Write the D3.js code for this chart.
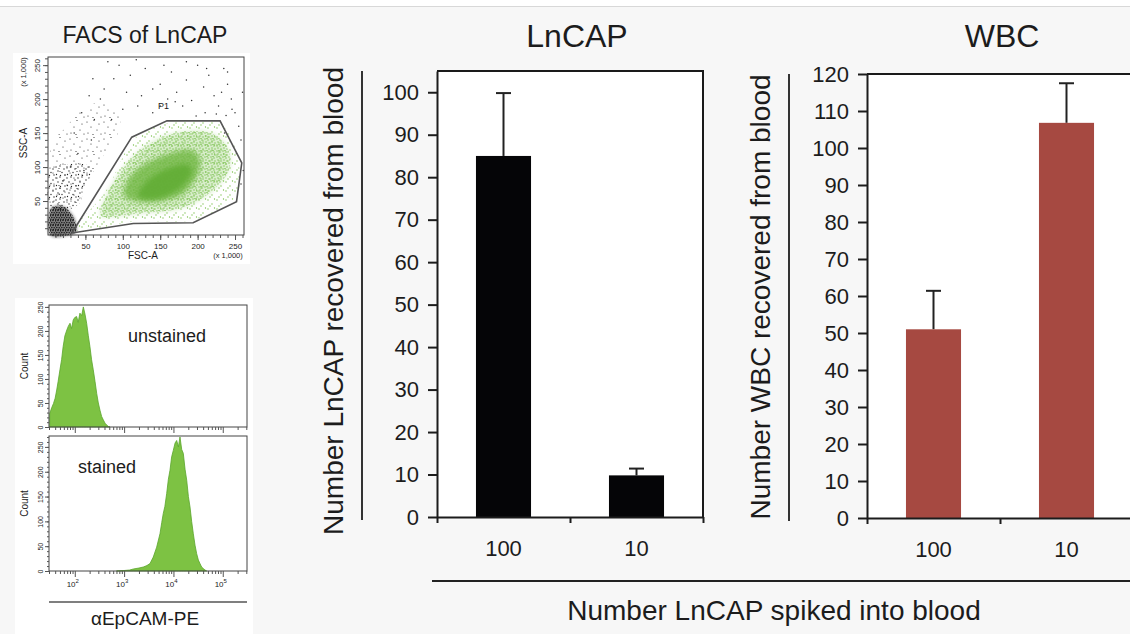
<!DOCTYPE html>
<html lang="en">
<head>
<meta charset="utf-8">
<title>LnCAP recovered from blood</title>
<script src="https://cdn.jsdelivr.net/npm/d3@7"></script>
<style>
body { margin: 0; background: #fff; }
text { font-family: "Liberation Sans", Arial, Helvetica, sans-serif; fill: #1c1c1c; }
</style>
</head>
<body>
<script>
// ---- bar charts: cells recovered vs. LnCAP spiked into blood ----
var spiked = ["100", "10"];
var lncapMean = [85, 9.8];
var lncapErr = [14.8, 1.6];
var wbcMean = [51, 106.8];
var wbcErr = [10.4, 10.7];
var lncapTicks = [0, 10, 20, 30, 40, 50, 60, 70, 80, 90, 100];
var wbcTicks = [0, 10, 20, 30, 40, 50, 60, 70, 80, 90, 100, 110, 120];

// ---- FACS scatter (FSC-A / SSC-A, x 1,000) ----
var scatterTicks = [50, 100, 150, 200, 250];
var gateP1 = [[32, 3], [112, 144], [159, 168], [230, 168], [259, 106], [252, 49], [194, 18], [114, 17]];
var gateLabel = [147, 186];
var p1Sparse = [[38, 7], [78, 66], [114, 140], [159, 164], [230, 163], [254, 110], [250, 56], [194, 22], [114, 20]];
var p1Mid = [[70, 32], [87, 76], [114, 115], [145, 140], [181, 152], [217, 150], [239, 130], [243, 101], [230, 76], [203, 52], [168, 37], [123, 32], [87, 27]];
var p1Core = [[101, 61], [110, 86], [132, 106], [163, 120], [190, 125], [203, 111], [199, 86], [181, 61], [159, 52], [132, 49], [110, 52]];
var p1Dense = [[120, 58], [135, 82], [160, 98], [185, 104], [192, 92], [180, 72], [160, 58], [138, 52]];
var debrisBand = [[3, 125], [25, 160], [52, 189], [79, 194], [96, 174], [92, 145], [70, 110], [52, 76], [38, 42], [25, 42], [3, 42]];
var debrisLower = [[3, 42], [38, 42], [50, 72], [60, 98], [35, 105], [3, 95]];
var debrisCore = [[3, 37], [20, 42], [34, 27], [38, 7], [29, 0], [3, 0]];
var outsideEvents = [[60, 230], [75, 215], [95, 250], [110, 235], [125, 205], [130, 245], [150, 222], [165, 240], [172, 210],
  [185, 228], [192, 198], [200, 250], [208, 218], [215, 235], [222, 205], [228, 190], [235, 245], [240, 222], [245, 200],
  [250, 180], [255, 160], [258, 140], [252, 120], [246, 185], [238, 176], [232, 210], [180, 190], [170, 196], [160, 200],
  [140, 215], [120, 190], [105, 210], [88, 230], [70, 200], [55, 205], [45, 180], [35, 150], [40, 120], [30, 100], [20, 80],
  [15, 60], [48, 95], [58, 140], [62, 170], [85, 170], [100, 185], [140, 180], [150, 190], [198, 175], [210, 180], [225, 178],
  [236, 150], [248, 130], [240, 240], [212, 245], [185, 255], [155, 250], [118, 258], [80, 255], [260, 210], [261, 95], [258, 75]];

// ---- aEpCAM-PE histograms: [fluorescence, count] ----
var countTicks = [50, 100, 150, 200, 250];
var logTicks = [100, 1000, 10000, 100000];
var unstained = [[31, 28], [34, 40], [37, 49], [40, 60], [43, 77], [46, 95], [50, 119], [54, 140], [58, 167], [63, 190],
  [69, 202], [74, 210], [80, 216], [86, 205], [93, 223], [100, 228], [109, 230], [117, 218], [127, 237], [138, 232],
  [149, 250], [161, 235], [174, 216], [188, 190], [203, 167], [219, 140], [237, 119], [257, 95], [278, 70], [300, 50],
  [324, 35], [350, 22], [378, 15], [410, 8], [444, 4], [480, 1], [518, 0]];
var stained = [[700, 0], [1000, 1], [1300, 2], [1535, 4], [2000, 6], [2449, 8], [2900, 11], [3350, 15], [3900, 28],
  [4571, 48], [5333, 75], [5800, 98], [6223, 116], [6700, 130], [7295, 156], [7900, 185], [8511, 203], [9200, 230],
  [9931, 243], [10800, 258], [11640, 263], [12600, 250], [13580, 270], [14700, 245], [15850, 237], [17200, 205],
  [18580, 183], [20100, 150], [21680, 129], [23400, 100], [25290, 75], [27400, 52], [29580, 35], [32000, 22],
  [34510, 15], [37300, 8], [40270, 5], [43600, 2], [47210, 0]];

var svg = d3.select('body').append('svg').attr('width', 1130).attr('height', 634);
var defs = svg.append('defs');

//page background
svg.append('rect').attr('width', 1130).attr('height', 634).attr('fill', '#fff');
svg.append('rect').attr('y', 6).attr('width', 1130).attr('height', 628).attr('fill', '#f7f7f7');
svg.append('line').attr('x1', 0).attr('x2', 1130).attr('y1', 6.5).attr('y2', 6.5).attr('stroke', '#d8d8d8');

//dot patterns for the dense FACS clouds
function dotPattern(id, size, dots, color, r) {
    var p = defs.append('pattern').attr('id', id).attr('width', size).attr('height', size)
        .attr('patternUnits', 'userSpaceOnUse');
    p.selectAll('circle').data(dots).enter().append('circle')
        .attr('cx', function(d) { return d[0]; })
        .attr('cy', function(d) { return d[1]; })
        .attr('r', r).attr('fill', color);
}
dotPattern('gSparse', 9, [[1, 2], [5, 6], [7.5, 1], [3, 8]], '#79bf4a', 0.65);
dotPattern('gMid', 6, [[1, 1], [4, 2], [2, 4], [5, 5], [3, 0.5]], '#6db83e', 0.7);
dotPattern('kBand', 17, [[2, 3], [9, 1.5], [14, 5], [6, 8], [12, 11], [3, 14], [16, 15], [8, 15.5]], '#2a2a2a', 0.6);
dotPattern('kMid', 11, [[1, 2], [5, 1], [9, 4], [3, 6], [7, 7.5], [10, 10], [1.5, 9.5], [5.5, 10.5]], '#222', 0.65);
dotPattern('kDense', 5, [[0.5, 0.8], [3, 0.5], [1.8, 2.4], [4.2, 2.8], [0.8, 4.2], [3.2, 4.5]], '#111', 0.75);

defs.append('filter').attr('id', 'soft').attr('x', '-20%').attr('y', '-20%').attr('width', '140%').attr('height', '140%')
    .append('feGaussianBlur').attr('stdDeviation', 2.5);
defs.append('filter').attr('id', 'soft1').attr('x', '-30%').attr('y', '-30%').attr('width', '160%').attr('height', '160%')
    .append('feGaussianBlur').attr('stdDeviation', 1.5);

function styleAxis(g, size, color) {
    g.selectAll('path, line').attr('stroke', color);
    g.selectAll('text').style('font-size', size + 'px').attr('fill', color);
}

// ================= FACS scatter =================
var fx = d3.scaleLinear().domain([0, 262]).range([48, 244]);
var fy = d3.scaleLinear().domain([0, 262]).range([235, 57]);
var poly = d3.line().x(function(d) { return fx(d[0]); }).y(function(d) { return fy(d[1]); }).curve(d3.curveLinearClosed);
var smooth = d3.line().x(function(d) { return fx(d[0]); }).y(function(d) { return fy(d[1]); }).curve(d3.curveCardinalClosed);

svg.append('rect').attr('x', 13).attr('y', 53).attr('width', 237).attr('height', 211).attr('fill', '#fff');
svg.append('text').attr('x', 145).attr('y', 43).attr('text-anchor', 'middle').style('font-size', '23px').text('FACS of LnCAP');

var sc = svg.append('g');
sc.append('path').attr('d', smooth(p1Sparse)).attr('fill', 'url(#gSparse)');
sc.append('path').attr('d', smooth(p1Mid)).attr('fill', 'url(#gMid)');
sc.append('path').attr('d', smooth(p1Mid)).attr('fill', '#8fcc68').attr('opacity', 0.35).attr('filter', 'url(#soft)');
sc.append('path').attr('d', smooth(p1Core)).attr('fill', '#72b845').attr('opacity', 0.8).attr('filter', 'url(#soft)');
sc.append('path').attr('d', smooth(p1Dense)).attr('fill', '#62ad35').attr('opacity', 0.9).attr('filter', 'url(#soft)');
sc.append('path').attr('d', smooth(debrisBand)).attr('fill', 'url(#kBand)');
sc.append('path').attr('d', smooth(debrisLower)).attr('fill', 'url(#kMid)');
sc.append('path').attr('d', smooth(debrisCore)).attr('fill', '#1a1a1a').attr('opacity', 0.55).attr('filter', 'url(#soft1)');
sc.append('path').attr('d', smooth(debrisCore)).attr('fill', 'url(#kDense)');
sc.selectAll('circle.ev').data(outsideEvents).enter().append('circle').attr('class', 'ev')
    .attr('cx', function(d) { return fx(d[0]); })
    .attr('cy', function(d) { return fy(d[1]); })
    .attr('r', 0.75).attr('fill', '#333');
sc.append('path').attr('d', poly(gateP1)).attr('fill', 'none').attr('stroke', '#555').attr('stroke-width', 1.6);
sc.append('text').attr('x', fx(gateLabel[0])).attr('y', fy(gateLabel[1])).style('font-size', '9px').attr('fill', '#555').text('P1');
sc.append('rect').attr('x', 48).attr('y', 57).attr('width', 196).attr('height', 178)
    .attr('fill', 'none').attr('stroke', '#444').attr('stroke-width', 1);

var fxMinor = sc.append('g').attr('transform', 'translate(0,235)')
    .call(d3.axisBottom(fx).tickValues(d3.range(10, 262, 10)).tickSize(3).tickFormat(''));
var fxMajor = sc.append('g').attr('transform', 'translate(0,235)')
    .call(d3.axisBottom(fx).tickValues(scatterTicks).tickSize(5).tickPadding(3));
var fyMinor = sc.append('g').attr('transform', 'translate(48,0)')
    .call(d3.axisLeft(fy).tickValues(d3.range(10, 262, 10)).tickSize(3).tickFormat(''));
var fyMajor = sc.append('g').attr('transform', 'translate(48,0)')
    .call(d3.axisLeft(fy).tickValues(scatterTicks).tickSize(5));
[fxMinor, fxMajor, fyMinor, fyMajor].forEach(function(a) { styleAxis(a, 8, '#555'); a.select('.domain').remove(); });
fyMajor.selectAll('text').attr('transform', 'rotate(-90)').attr('x', 0).attr('y', -8).attr('dy', 0).style('text-anchor', 'middle');

sc.append('text').attr('x', 143).attr('y', 259).attr('text-anchor', 'middle').style('font-size', '10px').attr('fill', '#444').text('FSC-A');
sc.append('text').attr('x', 228).attr('y', 258).attr('text-anchor', 'middle').style('font-size', '7.5px').attr('fill', '#444').text('(x 1,000)');
sc.append('text').attr('transform', 'translate(27,143) rotate(-90)').attr('text-anchor', 'middle').style('font-size', '10px').attr('fill', '#444').text('SSC-A');
sc.append('text').attr('transform', 'translate(26,72) rotate(-90)').attr('text-anchor', 'middle').style('font-size', '7.5px').attr('fill', '#444').text('(x 1,000)');

// ================= histograms =================
var hx = d3.scaleLog().domain([30, 310000]).range([49, 247]);
var hxMinor = hx.ticks().filter(function(v) { return logTicks.indexOf(v) < 0; });

svg.append('rect').attr('x', 15).attr('y', 298).attr('width', 238).attr('height', 336).attr('fill', '#fff');

function histPanel(data, top, bottom, yMax, label, lx, ly, withLabels) {
    var hy = d3.scaleLinear().domain([0, yMax]).range([bottom, top]);
    var g = svg.append('g');
    var area = d3.area()
        .x(function(d) { return hx(d[0]); })
        .y0(bottom)
        .y1(function(d) { return hy(d[1]); });
    g.append('path').datum(data).attr('d', area).attr('fill', '#7dc243').attr('stroke', '#5aa62c').attr('stroke-width', 0.8);
    g.append('rect').attr('x', 49).attr('y', top).attr('width', 198).attr('height', bottom - top)
        .attr('fill', 'none').attr('stroke', '#444').attr('stroke-width', 1);

    var a1 = g.append('g').attr('transform', 'translate(49,0)')
        .call(d3.axisLeft(hy).tickValues(d3.range(10, yMax, 10)).tickSize(2).tickFormat(''));
    var a2 = g.append('g').attr('transform', 'translate(49,0)')
        .call(d3.axisLeft(hy).tickValues([0].concat(countTicks)).tickSize(4));
    a2.selectAll('text').attr('transform', 'rotate(-90)').attr('x', 0).attr('y', -6).attr('dy', 0).style('text-anchor', 'middle');
    var a3 = g.append('g').attr('transform', 'translate(0,' + bottom + ')')
        .call(d3.axisBottom(hx).tickValues(hxMinor).tickSize(3).tickFormat(''));
    var a4 = g.append('g').attr('transform', 'translate(0,' + bottom + ')')
        .call(d3.axisBottom(hx).tickValues(logTicks).tickSize(6).tickFormat(''));
    [a1, a2, a3, a4].forEach(function(a) { styleAxis(a, 7, '#555'); a.select('.domain').remove(); });

    if (withLabels) {
        var t = g.selectAll('text.lg').data(logTicks).enter().append('text').attr('class', 'lg')
            .attr('x', function(d) { return hx(d) - 2; })
            .attr('y', bottom + 16)
            .attr('text-anchor', 'middle')
            .style('font-size', '8px').attr('fill', '#555');
        t.append('tspan').text('10');
        t.append('tspan').attr('dy', -4).style('font-size', '6px').text(function(d) { return Math.round(Math.log10(d)); });
    }
    g.append('text').attr('transform', 'translate(28,' + ((top + bottom) / 2) + ') rotate(-90)')
        .attr('text-anchor', 'middle').style('font-size', '10px').attr('fill', '#444').text('Count');
    g.append('text').attr('x', lx).attr('y', ly).attr('text-anchor', 'middle').style('font-size', '18px').text(label);
}
histPanel(unstained, 305, 427, 254, 'unstained', 167, 342, false);
histPanel(stained, 436, 571, 272, 'stained', 107, 473, true);

svg.append('line').attr('x1', 49).attr('x2', 247).attr('y1', 602).attr('y2', 602).attr('stroke', '#555').attr('stroke-width', 1.5);
svg.append('text').attr('x', 145).attr('y', 625).attr('text-anchor', 'middle').style('font-size', '19px').text('\u03b1EpCAM-PE');

// ================= bar charts =================
function barPanel(o) {
    var w = 266;
    var x = d3.scaleBand().domain(spiked).range([o.left, o.left + w]).paddingInner(0.586).paddingOuter(0.293);
    var y = d3.scaleLinear().domain([0, o.max]).range([o.bottom, o.top]);
    var g = svg.append('g');

    g.append('rect').attr('x', o.left).attr('y', o.top).attr('width', w).attr('height', o.bottom - o.top).attr('fill', '#fff');
    g.append('path').attr('d', 'M' + o.left + ',' + o.top + 'H' + (o.left + w) + 'V' + o.bottom)
        .attr('fill', 'none').attr('stroke', '#1a1a1a').attr('stroke-width', 2);

    //error bars (upper half only, bar hides the rest)
    var err = g.selectAll('g.err').data(o.mean).enter().append('g').attr('class', 'err');
    err.append('line')
        .attr('x1', function(d, i) { return x(spiked[i]) + x.bandwidth() / 2; })
        .attr('x2', function(d, i) { return x(spiked[i]) + x.bandwidth() / 2; })
        .attr('y1', function(d) { return y(d); })
        .attr('y2', function(d, i) { return y(d + o.err[i]); });
    err.append('line')
        .attr('x1', function(d, i) { return x(spiked[i]) + x.bandwidth() / 2 - 7.5; })
        .attr('x2', function(d, i) { return x(spiked[i]) + x.bandwidth() / 2 + 7.5; })
        .attr('y1', function(d, i) { return y(d + o.err[i]); })
        .attr('y2', function(d, i) { return y(d + o.err[i]); });
    err.selectAll('line').attr('stroke', '#222').attr('stroke-width', 2);

    g.selectAll('rect.bar').data(o.mean).enter().append('rect').attr('class', 'bar')
        .attr('x', function(d, i) { return x(spiked[i]); })
        .attr('y', function(d) { return y(d); })
        .attr('width', x.bandwidth())
        .attr('height', function(d) { return y(0) - y(d); })
        .attr('fill', o.color);

    var ya = g.append('g').attr('transform', 'translate(' + o.left + ',0)')
        .call(d3.axisLeft(y).tickValues(o.ticks).tickSize(9).tickPadding(9).tickSizeOuter(0));
    styleAxis(ya, 22, '#1c1c1c');
    ya.selectAll('path, line').attr('stroke-width', 2);

    //boundary ticks on the x axis
    var b = d3.scaleLinear().domain([0, spiked.length]).range([o.left, o.left + w]);
    var xb = g.append('g').attr('transform', 'translate(0,' + o.bottom + ')')
        .call(d3.axisBottom(b).tickValues(d3.range(0, spiked.length + 1)).tickSize(6).tickSizeOuter(0).tickFormat(''));
    styleAxis(xb, 22, '#1c1c1c');
    xb.selectAll('path, line').attr('stroke-width', 2);

    var xa = g.append('g').attr('transform', 'translate(0,' + o.bottom + ')')
        .call(d3.axisBottom(x).tickSize(0).tickPadding(23));
    xa.select('.domain').remove();
    styleAxis(xa, 22, '#1c1c1c');

    g.append('text').attr('x', o.titleX).attr('y', 47).attr('text-anchor', 'middle').style('font-size', '32px').text(o.title);
    g.append('line').attr('x1', o.ruleX).attr('x2', o.ruleX).attr('y1', o.top).attr('y2', o.bottom + 3)
        .attr('stroke', '#333').attr('stroke-width', 2);
    g.append('text').attr('transform', 'translate(' + o.labelX + ',' + o.labelY + ') rotate(-90)')
        .attr('text-anchor', 'middle').style('font-size', '28px').text(o.ylabel);
}

barPanel({ left: 437, top: 71, bottom: 517, max: 105, mean: lncapMean, err: lncapErr, ticks: lncapTicks,
    color: '#050507', title: 'LnCAP', titleX: 577, ruleX: 362, labelX: 343, labelY: 301,
    ylabel: 'Number LnCAP recovered from blood' });
barPanel({ left: 867, top: 74, bottom: 518, max: 120, mean: wbcMean, err: wbcErr, ticks: wbcTicks,
    color: '#a64941', title: 'WBC', titleX: 1002, ruleX: 789, labelX: 770, labelY: 297,
    ylabel: 'Number WBC recovered from blood' });

//shared x axis title
svg.append('line').attr('x1', 432).attr('x2', 1130).attr('y1', 581).attr('y2', 581).attr('stroke', '#222').attr('stroke-width', 2);
svg.append('text').attr('x', 774).attr('y', 620).attr('text-anchor', 'middle').style('font-size', '28px')
    .text('Number LnCAP spiked into blood');
</script>
</body>
</html>
